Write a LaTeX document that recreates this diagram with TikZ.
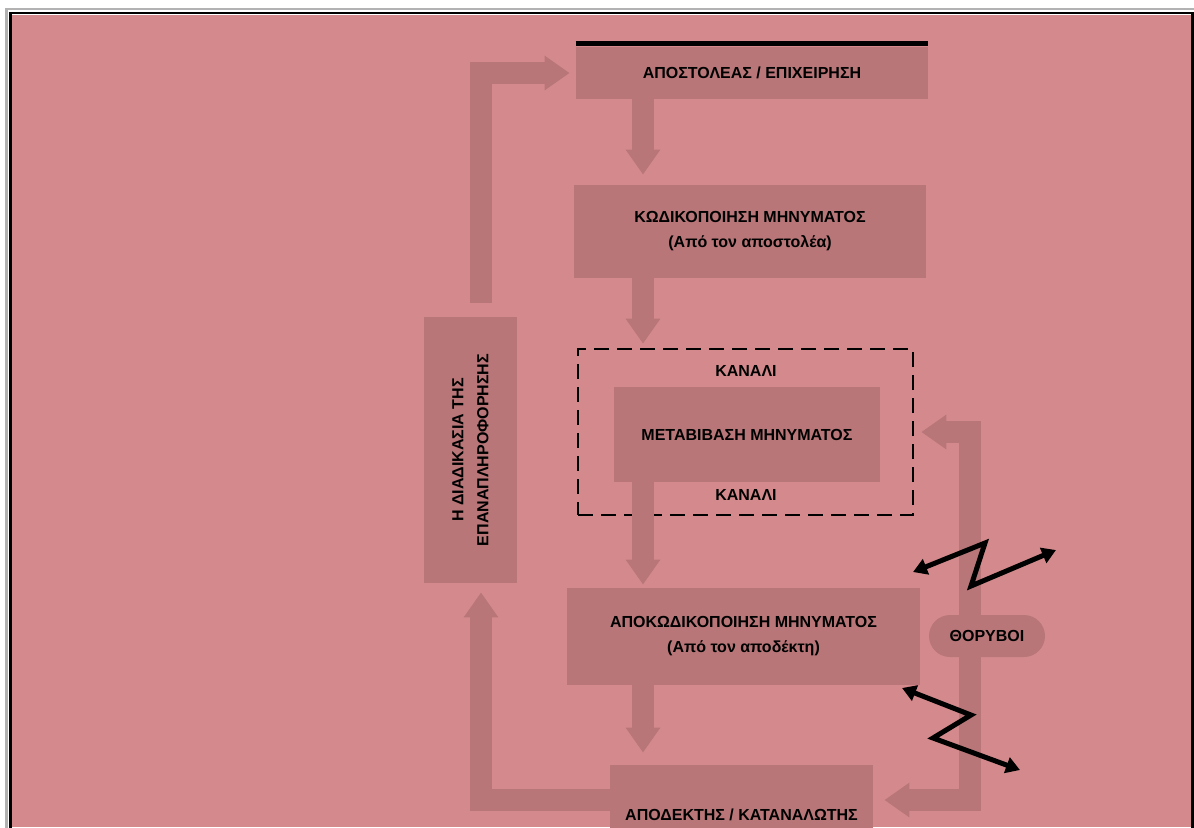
\documentclass[tikz,border=0pt]{standalone}
\usepackage{fontspec}
\setmainfont{Liberation Sans}
\usetikzlibrary{arrows.meta}
\definecolor{bgpink}{RGB}{212,138,140}
\definecolor{boxpink}{RGB}{184,118,120}
\tikzset{
  box/.style={fill=boxpink, inner sep=0pt, align=center, font=\fontsize{8}{12.5}\selectfont\bfseries},
  lbl/.style={inner sep=0pt, font=\fontsize{8}{12.5}\selectfont\bfseries},
  flow/.style={draw=boxpink, line width=11pt, line join=miter, -{Triangle[length=12.5pt,width=16.5pt]}},
  bolt/.style={draw=black, line width=2.5pt, line join=miter, {Triangle[length=7pt,width=8pt]}-{Triangle[length=7pt,width=8pt]}},
}
\begin{document}
\begin{tikzpicture}[x=0.5pt, y=-0.5pt]
    \useasboundingbox (0,0) rectangle (1194,827);
    % Πλαίσιο
    \fill[white] (0,0) rectangle (1194,827);
    \draw[gray!60, line width=1.2pt] (6.5,9) rectangle (1210,900);
    \draw[black, line width=1.2pt] (10.5,13) rectangle (1192.5,900);
    \begin{scope}
    \clip (12,15) rectangle (1191,827);
    \fill[bgpink] (12,15) rectangle (1191,827);

    % Κουτιά της διαδικασίας
    \node[box, minimum width=176pt, minimum height=26pt] (send) at (752,73) {ΑΠΟΣΤΟΛΕΑΣ / ΕΠΙΧΕΙΡΗΣΗ};
    \draw[black, line width=2.5pt] ([yshift=1.5pt]send.north west) -- ([yshift=1.5pt]send.north east);
    \node[box, minimum width=176pt, minimum height=46.5pt] (encode) at (750,231.5) {ΚΩΔΙΚΟΠΟΙΗΣΗ ΜΗΝΥΜΑΤΟΣ\\(Από τον αποστολέα)};
    \node[draw=black, dashed, dash pattern=on 7.5pt off 4pt, line width=1.3pt, inner sep=0pt, minimum width=167.5pt, minimum height=83pt] (channel) at (745.5,432) {};
    \node[lbl] (chtop) at (746,371) {ΚΑΝΑΛΙ};
    \node[lbl] (chbot) at (746,495) {ΚΑΝΑΛΙ};
    \node[box, minimum width=133pt, minimum height=47.5pt] (transmit) at (747,434.5) {ΜΕΤΑΒΙΒΑΣΗ ΜΗΝΥΜΑΤΟΣ};
    \node[box, minimum width=176.5pt, minimum height=48.5pt] (decode) at (743.5,636.5) {ΑΠΟΚΩΔΙΚΟΠΟΙΗΣΗ ΜΗΝΥΜΑΤΟΣ\\(Από τον αποδέκτη)};
    \node[box, minimum width=131.5pt, minimum height=50pt] (recv) at (741.5,815) {ΑΠΟΔΕΚΤΗΣ / ΚΑΤΑΝΑΛΩΤΗΣ};

    % Ανατροφοδότηση
    \node[box, minimum width=46.5pt, minimum height=133pt] (fb) at (470.5,450) {};
    \node[lbl, rotate=90, align=center] (fbtext) at (fb.center) {Η ΔΙΑΔΙΚΑΣΙΑ ΤΗΣ\\ΕΠΑΝΑΠΛΗΡΟΦΟΡΗΣΗΣ};

    % Θόρυβοι
    \node[box, rounded corners=10.5pt, minimum width=58pt, minimum height=21pt] (noise) at (987,636) {ΘΟΡΥΒΟΙ};

    % Βέλη ροής
    \coordinate (spine) at (643,0);
    \coordinate (loop) at (481,0);
    \coordinate (nx) at (970,0);
    \coordinate (rline) at (0,800);
    \draw[flow, shorten >=5pt] (send.south -| spine) -- (encode.north -| spine);
    \draw[flow, shorten >=2pt] (encode.south -| spine) -- (channel.north -| spine);
    \draw[flow, shorten >=1.5pt] (transmit.south -| spine) -- (decode.north -| spine);
    \draw[flow, shorten >=6pt] (decode.south -| spine) -- (recv.north -| spine);

    \draw[flow, shorten >=4.5pt] (recv.west |- rline) -| (loop |- fb.south);
    \draw[flow, shorten <=7pt, shorten >=3pt] (loop |- fb.north) |- (send.west);

    \draw[flow, shorten >=3.5pt] (nx |- noise.north) |- (channel.east);
    \draw[flow, shorten >=5.5pt] (nx |- noise.south) |- (recv.east |- rline);

    % Κεραυνοί
    \draw[bolt] (913,572) -- (985,543) -- (971,586) -- (1056,550);
    \draw[bolt] (902,688) -- (971,715) -- (933,738) -- (1020,770);
    \end{scope}
\end{tikzpicture}
\end{document}
